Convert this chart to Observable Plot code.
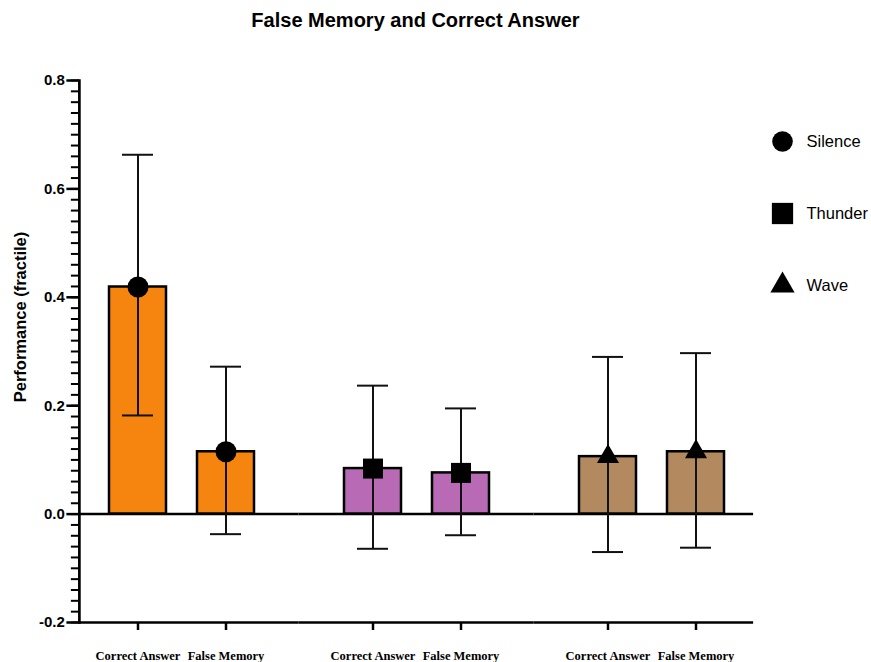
<!DOCTYPE html>
<html>
<head>
<meta charset="utf-8">
<script src="https://cdn.jsdelivr.net/npm/d3@7"></script>
<script src="https://cdn.jsdelivr.net/npm/@observablehq/plot@0.6"></script>
<style>
  html, body { margin: 0; padding: 0; background: #fff; }
  #wrap { position: relative; width: 871px; height: 662px; overflow: hidden; }
  #title { width: 831px; height: 40px; line-height: 40px; text-align: center;
           font-family: "Liberation Sans", Arial, sans-serif; font-weight: bold; font-size: 20px; color: #000; }
  #ylabel { position: absolute; left: 20px; top: 317px; transform: translate(-50%, -50%) rotate(-90deg);
            white-space: nowrap; font-family: "Liberation Sans", Arial, sans-serif; font-weight: bold;
            font-size: 16.5px; line-height: 1; color: #000; }
  #legend { position: absolute; left: 760px; top: 100px; }
  #chart svg, #legend svg { display: block; }
</style>
</head>
<body>
<div id="wrap">
  <div id="title">False Memory and Correct Answer</div>
  <div id="chart"></div>
  <div id="ylabel"></div>
  <div id="legend"></div>
</div>
<script>
// ---- data ----
const conditions = ["Silence", "Silence", "Thunder", "Thunder", "Wave", "Wave"];
const measures = ["Correct Answer", "False Memory", "Correct Answer", "False Memory", "Correct Answer", "False Memory"];
const means = [0.419, 0.115, 0.084, 0.076, 0.106, 0.115];
const lows = [0.182, -0.037, -0.064, -0.039, -0.070, -0.062];
const highs = [0.663, 0.272, 0.237, 0.195, 0.290, 0.297];
const groupNames = ["Silence", "Thunder", "Wave"];
const measureNames = ["Correct Answer", "False Memory"];
const yTickValues = [-0.2, 0, 0.2, 0.4, 0.6, 0.8];
const yMinorTicks = d3.range(-10, 41).map(i => i / 50);
const yLabel = "Performance (fractile)";

// ---- styles / layout ----
const groupColors = ["#F6850F", "#B86AB4", "#B38A60"];
const groupSymbols = ["circle", "square", "triangle"];
const W = 871, H = 622, mL = 78, mR = 118, mT = 40, mB = 40;
const fxPadInner = 0.2, fxPadOuter = 0.0345;
const fxStep = (W - mL - mR) / (groupNames.length - fxPadInner + 2 * fxPadOuter);
const outerGap = fxStep * fxPadOuter, halfGap = fxStep * fxPadInner / 2;

const data = conditions.map((c, i) => ({
  condition: c, measure: measures[i], mean: means[i], low: lows[i], high: highs[i]
}));

const common = {fx: "condition", x: "measure"};

// horizontal lines spanning the whole frame, one segment per facet
function spanRule(value) {
  return groupNames.map((g, i) => Plot.ruleY([value], {
    fx: [g],
    insetLeft: -(i === 0 ? outerGap : halfGap),
    insetRight: -(i === groupNames.length - 1 ? outerGap : halfGap),
    stroke: "#000", strokeWidth: 2.5
  }));
}

const chart = Plot.plot({
  width: W,
  height: H,
  marginTop: mT,
  marginBottom: mB,
  marginLeft: mL,
  marginRight: mR,
  style: {fontFamily: "'Liberation Sans', Arial, sans-serif", color: "#000", background: "#fff", overflow: "visible"},
  fx: {domain: groupNames, axis: null, paddingInner: fxPadInner, paddingOuter: fxPadOuter},
  x: {domain: measureNames, paddingInner: 0.354, paddingOuter: 0.234},
  y: {domain: [-0.2, 0.8]},
  color: {domain: groupNames, range: groupColors},
  symbol: {domain: groupNames, range: groupSymbols},
  marks: [
    Plot.barY(data, {...common, y: "mean", fill: "condition", stroke: "#000", strokeWidth: 2.5}),
    ...spanRule(0),
    ...spanRule(-0.2),
    Plot.frame({anchor: "left", facet: "super", dx: -outerGap, stroke: "#000", strokeWidth: 2.7}),
    Plot.ruleX(data, {...common, y1: "low", y2: "high", stroke: "#111", strokeWidth: 2}),
    Plot.tickY(data, {...common, y: "low", insetLeft: 13, insetRight: 13, stroke: "#111", strokeWidth: 2}),
    Plot.tickY(data, {...common, y: "high", insetLeft: 13, insetRight: 13, stroke: "#111", strokeWidth: 2}),
    Plot.dot(data.filter(d => d.condition === "Silence"), {...common, y: "mean", symbol: "condition", fill: "#000", r: 10.5}),
    Plot.dot(data.filter(d => d.condition === "Thunder"), {...common, y: "mean", symbol: "condition", fill: "#000", r: 11.3}),
    Plot.dot(data.filter(d => d.condition === "Wave"), {...common, y: "mean", symbol: "condition", fill: "#000", r: 8.2}),
    Plot.axisY(yMinorTicks, {tickSize: 8, tickFormat: () => "", strokeWidth: 2, dx: -outerGap, label: null}),
    Plot.axisY(yTickValues, {
      tickSize: 12.5, tickPadding: 2, tickFormat: d => d.toFixed(1),
      fontSize: 15, fontWeight: "bold", strokeWidth: 2.5, dx: -outerGap,
      label: null
    }),
    Plot.axisX({
      tickSize: 8, tickPadding: 21, strokeWidth: 2.5,
      fontFamily: "'Liberation Serif', 'Times New Roman', serif", fontWeight: "bold", fontSize: 12.5,
      label: null
    })
  ]
});
document.getElementById("chart").appendChild(chart);
document.getElementById("ylabel").textContent = yLabel;

const legend = Plot.plot({
  width: 111,
  height: 225,
  marginTop: 40,
  marginBottom: 40,
  marginLeft: 22,
  marginRight: 0,
  style: {fontFamily: "'Liberation Sans', Arial, sans-serif", color: "#000", background: "transparent"},
  x: {axis: null},
  y: {domain: groupNames, type: "point", padding: 0, axis: null},
  symbol: {domain: groupNames, range: groupSymbols},
  marks: [
    Plot.dot(["Silence"], {y: d => d, symbol: d => d, fill: "#000", r: 10.3, frameAnchor: "left"}),
    Plot.dot(["Thunder"], {y: d => d, symbol: d => d, fill: "#000", r: 12, frameAnchor: "left"}),
    Plot.dot(["Wave"], {y: d => d, symbol: d => d, fill: "#000", r: 9, frameAnchor: "left"}),
    Plot.text(groupNames, {y: d => d, text: d => d, frameAnchor: "left", dx: 24, textAnchor: "start", fontSize: 16.5})
  ]
});
document.getElementById("legend").appendChild(legend);
</script>
</body>
</html>
